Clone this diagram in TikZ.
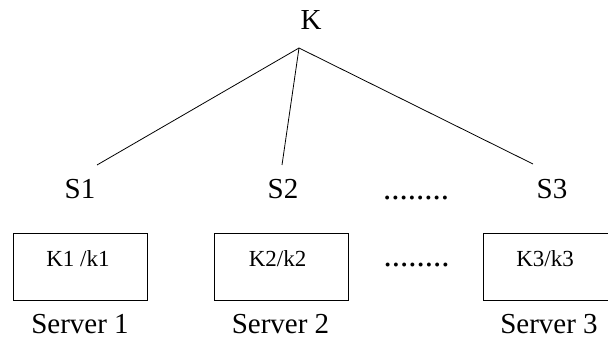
\documentclass[tikz,border=0pt]{standalone}
\usepackage{fontspec}
\setmainfont{Liberation Serif}
\begin{document}
\begin{tikzpicture}[x=1pt,y=-1pt,
  big/.style={font=\fontsize{29}{31}\selectfont, inner sep=0pt, anchor=base},
  boxtxt/.style={font=\fontsize{23}{25}\selectfont, inner sep=0pt, anchor=base},
  dots/.style={font=\fontsize{33}{35}\selectfont, inner sep=0pt, anchor=base},
  srv/.style={draw, line width=0.9pt, minimum width=134pt, minimum height=67pt, inner sep=0pt},
  link/.style={line width=0.8pt}]
\clip (0,0) rectangle (608,339);
% top
\node[big] (K) at (311,30) {K};
\coordinate (apex) at (299,48);
\node[big] (S1) at (80,199) {S1};
\node[big] (S2) at (283,199) {S2};
\node[big] (S3) at (552,199) {S3};
\node[dots] (d1) at (416,200) {........};
\coordinate (e1) at (97,165);
\coordinate (e2) at (282,165);
\coordinate (e3) at (533,164);
\draw[link] (apex) -- (e1);
\draw[link] (apex) -- (e2);
\draw[link] (apex) -- (e3);
% boxes
\node[srv] (B1) at (80,266.5) {};
\node[srv] (B2) at (281,266.5) {};
\node[srv] (B3) at (550,266.5) {};
\node[boxtxt] (t1) at (78,267) {K1 /k1};
\node[boxtxt] (t2) at (277.5,267) {K2/k2};
\node[boxtxt] (t3) at (545,267) {K3/k3};
\node[dots] (d2) at (416.5,266) {........};
\node[big] (L1) at (80,333) {Server 1};
\node[big] (L2) at (280.5,333) {Server 2};
\node[big] (L3) at (549,333) {Server 3};
\end{tikzpicture}
\end{document}
